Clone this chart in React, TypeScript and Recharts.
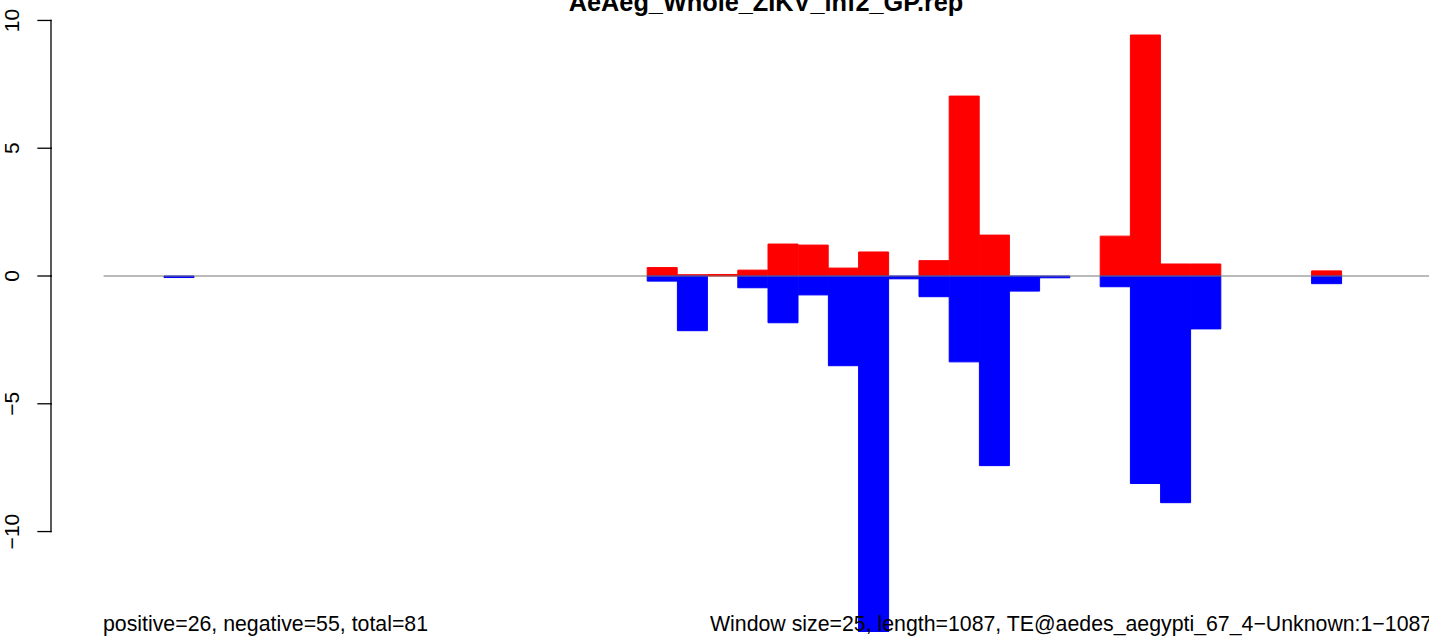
import { BarChart, Bar, XAxis, YAxis, ReferenceLine } from "recharts";

// window start positions (window size = 25, length = 1087)
const windowStart = [
  1, 26, 51, 76, 101, 126, 151, 176, 201, 226, 251, 276, 301, 326, 351, 376,
  401, 426, 451, 476, 501, 526, 551, 576, 601, 626, 651, 676, 701, 726, 751,
  776, 801, 826, 851, 876, 901, 926, 951, 976, 1001, 1026, 1051, 1076,
];

// sense (positive) coverage per window
const positive = [
  0, 0, 0, 0, 0, 0, 0, 0, 0, 0, 0, 0, 0, 0, 0, 0,
  0, 0, 0.33, 0.05, 0.06, 0.23, 1.25, 1.21, 0.31, 0.94, 0, 0.6, 7.04, 1.6, 0,
  0, 0, 1.56, 9.43, 0.47, 0.47, 0, 0, 0, 0.2, 0, 0, 0,
];

// antisense (negative) coverage per window
const negative = [
  0, 0, -0.06, 0, 0, 0, 0, 0, 0, 0, 0, 0, 0, 0, 0, 0,
  0, 0, -0.2, -2.14, 0, -0.46, -1.83, -0.74, -3.51, -14.6, -0.11, -0.81, -3.36, -7.42, -0.59,
  -0.07, 0, -0.42, -8.12, -8.87, -2.07, 0, 0, 0, -0.3, 0, 0, 0,
];

const yTicks = [-10, -5, 0, 5, 10];

const TITLE = "AeAeg_Whole_ZIKV_inf2_GP.rep";
const FOOT_LEFT = "positive=26, negative=55, total=81";
const FOOT_RIGHT = "Window size=25, length=1087, TE@aedes_aegypti_67_4\u2212Unknown:1\u22121087";

const W = 1440;
const H = 637;
const Y_MIN = -13.93;
const Y_MAX = 10.8;
const PLOT_H = 632;
const PX_PER_UNIT = PLOT_H / (Y_MAX - Y_MIN);
const AXIS_X = 51;
const TICK_LEN = 13;
const FONT = "'Liberation Sans', Arial, Helvetica, sans-serif";

const data = windowStart.map((w, i) => ({
  win: w,
  pos: positive[i],
  neg: negative[i],
}));

// R-style axis: line only between the outer ticks, labels rotated
function RTick(props: any) {
  const { y, payload } = props;
  const v = payload.value as number;
  const label = v < 0 ? `\u2212${Math.abs(v)}` : `${v}`;
  const lx = 19.5;
  return (
    <g>
      <line x1={AXIS_X - TICK_LEN} x2={AXIS_X} y1={y} y2={y} stroke="#000" strokeWidth={1.3} strokeLinecap="square" />
      {v > yTicks[0] && (
        <line x1={AXIS_X} x2={AXIS_X} y1={y} y2={y + 5 * PX_PER_UNIT} stroke="#000" strokeWidth={1.3} strokeLinecap="square" />
      )}
      <text
        x={lx}
        y={y}
        transform={`rotate(-90, ${lx}, ${y})`}
        textAnchor="middle"
        fontFamily={FONT}
        fontSize={21}
        fill="#000"
      >
        {label}
      </text>
    </g>
  );
}

export default function App() {
  return (
    <div style={{ position: "absolute", left: 0, top: 0, width: 1429, height: H, overflow: "hidden", background: "#fff" }}>
      <BarChart
        width={W}
        height={H}
        data={data}
        margin={{ top: 0, right: 7.6, left: 0, bottom: 5 }}
        barCategoryGap={0}
        barGap={0}
        stackOffset="sign"
      >
        <XAxis dataKey="win" hide />
        <YAxis
          domain={[Y_MIN, Y_MAX]}
          allowDataOverflow
          ticks={yTicks}
          interval={0}
          width={103.6}
          axisLine={false}
          tickLine={false}
          tick={<RTick />}
        />
        <ReferenceLine y={0} stroke="#777777" strokeWidth={1} />
        <Bar dataKey="pos" stackId="a" fill="#ff0000" stroke="#ff0000" strokeWidth={1} isAnimationActive={false} />
        <Bar dataKey="neg" stackId="a" fill="#0000ff" stroke="#0000ff" strokeWidth={1} isAnimationActive={false} />
      </BarChart>
      <svg width={W} height={H} style={{ position: "absolute", left: 0, top: 0, pointerEvents: "none" }}>
        <text x={766} y={11} textAnchor="middle" fontFamily={FONT} fontWeight="bold" fontSize={25.3} fill="#000">
          {TITLE}
        </text>
        <text x={103} y={631} fontFamily={FONT} fontSize={21.3} fill="#000">
          {FOOT_LEFT}
        </text>
        <text x={710} y={631} fontFamily={FONT} fontSize={21.3} fill="#000">
          {FOOT_RIGHT}
        </text>
      </svg>
    </div>
  );
}
